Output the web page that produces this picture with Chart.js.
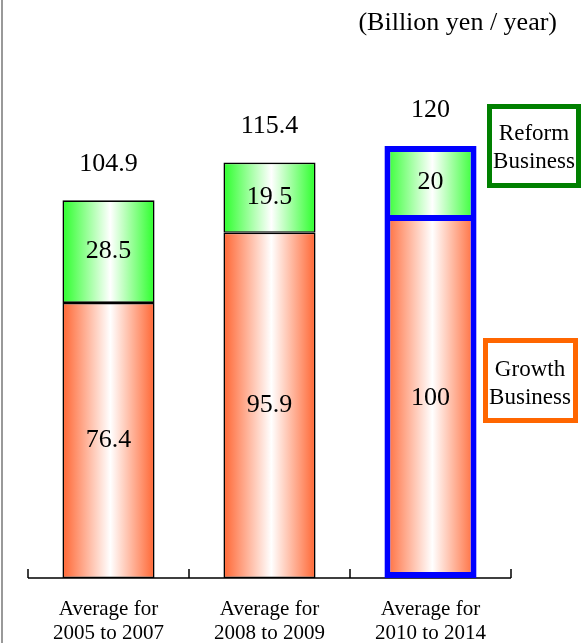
<!DOCTYPE html>
<html>
<head>
<meta charset="utf-8">
<title>Business investment</title>
<script src="https://cdn.jsdelivr.net/npm/chart.js@4"></script>
<style>
  html, body { margin: 0; padding: 0; background: #fff; }
</style>
</head>
<body>
<canvas id="investChart" width="582" height="643"></canvas>
<script>
// values in billion yen per year
const periods = [['Average for', '2005 to 2007'], ['Average for', '2008 to 2009'], ['Average for', '2010 to 2014']];
const growthBusiness = [76.4, 95.9, 100];
const reformBusiness = [28.5, 19.5, 20];
const totals = [104.9, 115.4, 120];
const unitLabel = '(Billion yen / year)';

const SERIF = '"Liberation Serif", "Times New Roman", serif';
const BAR_PCT = 0.572;
const PLAN_INDEX = 2; // the plan period gets a blue frame

// horizontal shading: solid colour at the edges, white in the middle
const shade = (edge) => (ctx) => {
  const chart = ctx.chart;
  const x = chart.scales.x;
  if (!x || ctx.dataIndex === undefined) return edge;
  const center = x.getPixelForValue(ctx.dataIndex);
  const half = x.width / periods.length * BAR_PCT / 2;
  if (!isFinite(center) || !isFinite(half)) return edge;
  const g = chart.ctx.createLinearGradient(center - half, 0, center + half, 0);
  g.addColorStop(0, edge);
  g.addColorStop(0.52, '#ffffff');
  g.addColorStop(1, edge);
  return g;
};

const frameColor = (ctx) => ctx.dataIndex === PLAN_INDEX ? '#0000ff' : '#000000';

const axisLine = {
  id: 'axisLine',
  beforeDraw(chart) {
    const c = chart.ctx;
    c.save();
    c.fillStyle = '#999999';
    c.fillRect(1, 0, 2, chart.height);
    c.restore();
  },
  beforeDatasetsDraw(chart) {
    const x = chart.scales.x;
    const y0 = chart.scales.y.getPixelForValue(0);
    const c = chart.ctx;
    const step = x.width / periods.length;
    c.save();
    c.strokeStyle = '#000';
    c.lineWidth = 1.5;
    c.beginPath();
    c.moveTo(x.left, y0);
    c.lineTo(x.right, y0);
    for (let k = 0; k <= periods.length; k++) {
      const px = x.left + k * step;
      c.moveTo(px, y0);
      c.lineTo(px, y0 - 9);
    }
    c.stroke();
    c.restore();
  }
};

const barText = {
  id: 'barText',
  afterDatasetsDraw(chart) {
    const c = chart.ctx;
    c.save();
    c.fillStyle = '#000';
    c.textAlign = 'center';
    c.textBaseline = 'middle';
    c.font = '26px ' + SERIF;
    chart.data.datasets.forEach((ds, i) => {
      chart.getDatasetMeta(i).data.forEach((bar, j) => {
        c.fillText(String(ds.data[j]), bar.x, (bar.y + bar.base) / 2);
      });
    });
    const tops = chart.getDatasetMeta(1).data;
    totals.forEach((t, j) => c.fillText(String(t), tops[j].x, tops[j].y - 36));
    c.restore();
  }
};

const sideNotes = {
  id: 'sideNotes',
  afterDraw(chart) {
    const c = chart.ctx;
    c.save();
    c.fillStyle = '#000';
    c.textBaseline = 'middle';
    c.textAlign = 'right';
    c.font = '26px ' + SERIF;
    c.fillText(unitLabel, 557, 23);

    c.textAlign = 'center';
    c.font = '23px ' + SERIF;
    c.lineWidth = 5;

    c.strokeStyle = '#008000';
    c.strokeRect(489.5, 106.5, 89, 79);
    c.fillText('Reform', 534, 134);
    c.fillText('Business', 534, 162);

    c.strokeStyle = '#ff6600';
    c.strokeRect(485.5, 340.5, 90, 80);
    c.fillText('Growth', 530, 370);
    c.fillText('Business', 530, 398);
    c.restore();
  }
};

new Chart(document.getElementById('investChart'), {
  type: 'bar',
  data: {
    labels: periods,
    datasets: [
      {
        label: 'Growth Business',
        data: growthBusiness,
        backgroundColor: shade('#ff6633'),
        borderColor: frameColor,
        borderWidth: (ctx) => ctx.dataIndex === PLAN_INDEX
          ? { top: 3, left: 6, right: 6, bottom: 6 } : 1.6,
        borderSkipped: false,
        inflateAmount: 0
      },
      {
        label: 'Reform Business',
        data: reformBusiness,
        backgroundColor: shade('#2cff2c'),
        borderColor: frameColor,
        borderWidth: (ctx) => ctx.dataIndex === PLAN_INDEX
          ? { top: 6, left: 6, right: 6, bottom: 3 } : 1.6,
        borderSkipped: false,
        inflateAmount: 0
      }
    ]
  },
  options: {
    responsive: false,
    animation: false,
    layout: { padding: { top: 38, left: 28, right: 71, bottom: 0 } },
    barPercentage: BAR_PCT,
    categoryPercentage: 1,
    plugins: {
      legend: { display: false },
      tooltip: { enabled: false }
    },
    scales: {
      x: {
        stacked: true,
        grid: { display: false, drawTicks: false },
        border: { display: false },
        ticks: {
          color: '#000',
          padding: 19,
          font: { family: SERIF, size: 21, lineHeight: 24 / 21 }
        },
        afterFit: (scale) => { scale.height = 65; }
      },
      y: {
        stacked: true,
        display: false,
        min: 0,
        max: 150
      }
    }
  },
  plugins: [axisLine, barText, sideNotes]
});
</script>
</body>
</html>
